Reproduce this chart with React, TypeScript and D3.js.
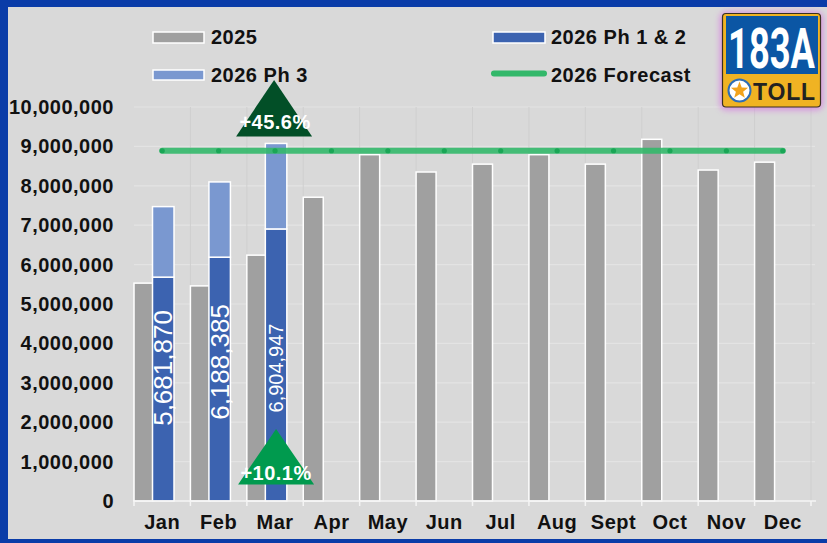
import React from "react";
import * as d3 from "d3";

const months = ["Jan", "Feb", "Mar", "Apr", "May", "Jun", "Jul", "Aug", "Sept", "Oct", "Nov", "Dec"];
const values2025 = [5530000, 5460000, 6240000, 7710000, 8790000, 8350000, 8550000, 8790000, 8550000, 9180000, 8400000, 8600000];
const ph12Months = ["Jan", "Feb", "Mar"];
const ph12Values = [5681870, 6188385, 6904947];
const ph3Values = [1790000, 1910000, 2170000];
const forecastValue = 8890000;
const yTicks = [0, 1000000, 2000000, 3000000, 4000000, 5000000, 6000000, 7000000, 8000000, 9000000, 10000000];
const changeLabels = ["+45.6%", "+10.1%"];

const W = 827;
const H = 543;
const FONT = "'Liberation Sans', Arial, sans-serif";

export default function App() {
  const x = d3.scaleBand<string>().domain(months).range([134, 811]).padding(0);
  const y = d3.scaleLinear().domain([0, 10000000]).range([501, 107]);
  const bw = x.bandwidth();
  const fmt = d3.format(",");

  const grayW = 20;
  const blueOff = 18.5;
  const blueW = 21.5;

  const lineGen = d3
    .line<string>()
    .x((m) => (x(m) as number) + bw / 2)
    .y(() => y(forecastValue));

  // star points for logo
  const starPts: [number, number][] = [];
  for (let i = 0; i < 10; i++) {
    const r = i % 2 === 0 ? 9 : 3.8;
    const a = -Math.PI / 2 + (i * Math.PI) / 5;
    starPts.push([739.5 + r * Math.cos(a), 90.5 + r * Math.sin(a)]);
  }
  const starPath = d3.line()(starPts) + "Z";

  const labelFont = [26, 26, 20];
  const labelCenter = [368, 362, 368];

  const marX = (x("Mar") as number) + blueOff + blueW / 2 - 2;
  const ls = 0.5;

  return (
    <svg
      width={W}
      height={H}
      style={{ position: "absolute", left: 0, top: 0 }}
      fontFamily={FONT}
    >
      <defs>
        <filter id="glow" x="-30%" y="-30%" width="160%" height="160%">
          <feGaussianBlur stdDeviation="3" />
        </filter>
      </defs>
      {/* background and frame */}
      <rect x={0} y={0} width={W} height={H} fill="#0a3ca8" />
      <rect x={8} y={7} width={W - 8} height={532} fill="#d9d9d9" />

      {/* horizontal gridlines */}
      {yTicks.slice(1).map((t) => (
        <line key={"h" + t} x1={134} x2={815} y1={y(t)} y2={y(t)} stroke="#e3e3e3" strokeWidth={1.2} />
      ))}
      {/* vertical gridlines */}
      {months.slice(1).map((m) => (
        <line
          key={"v" + m}
          x1={x(m) as number}
          x2={x(m) as number}
          y1={107}
          y2={501}
          stroke="#cfcfcf"
          strokeWidth={1}
        />
      ))}
      <line x1={811} x2={811} y1={107} y2={501} stroke="#cfcfcf" strokeWidth={1} />

      {/* 2025 bars */}
      {months.map((m, i) => (
        <rect
          key={"g" + m}
          x={x(m) as number}
          y={y(values2025[i])}
          width={grayW}
          height={y(0) - y(values2025[i])}
          fill="#a0a0a0"
          stroke="#ffffff"
          strokeWidth={1.5}
        />
      ))}

      {/* 2026 stacked bars */}
      {ph12Months.map((m, i) => {
        const x0 = (x(m) as number) + blueOff;
        const top12 = y(ph12Values[i]);
        const top3 = y(ph12Values[i] + ph3Values[i]);
        return (
          <g key={"b" + m}>
            <rect x={x0} y={top12} width={blueW} height={y(0) - top12} fill="#3c63b0" stroke="#ffffff" strokeWidth={1.5} />
            <rect x={x0} y={top3} width={blueW} height={top12 - top3} fill="#7a98d0" stroke="#ffffff" strokeWidth={1.5} />
            <text
              transform={`translate(${x0 + blueW / 2},${labelCenter[i]}) rotate(-90)`}
              textAnchor="middle"
              dominantBaseline="central"
              fill="#ffffff"
              fontSize={labelFont[i]}
            >
              {fmt(ph12Values[i])}
            </text>
          </g>
        );
      })}

      {/* forecast line */}
      <path d={lineGen(months) as string} fill="none" stroke="#33b86a" strokeOpacity={0.9} strokeWidth={6} strokeLinecap="round" />
      {months.map((m) => (
        <circle key={"d" + m} cx={(x(m) as number) + bw / 2} cy={y(forecastValue)} r={2.6} fill="#1aa656" />
      ))}

      {/* x axis */}
      <line x1={134} x2={816} y1={501} y2={501} stroke="#f4f4f4" strokeWidth={1.5} />
      {[...months.map((m) => x(m) as number), 811].map((t, i) => (
        <line key={"t" + i} x1={t} x2={t} y1={501} y2={506} stroke="#f4f4f4" strokeWidth={1.5} />
      ))}
      {months.map((m) => (
        <text
          key={"xl" + m}
          x={(x(m) as number) + bw / 2}
          y={529}
          textAnchor="middle"
          fontSize={20}
          fontWeight="bold"
          letterSpacing={ls}
          fill="#111"
        >
          {m}
        </text>
      ))}

      {/* y axis labels */}
      {yTicks.map((t) => (
        <text
          key={"yl" + t}
          x={114}
          y={y(t)}
          textAnchor="end"
          dominantBaseline="central"
          fontSize={20}
          fontWeight="bold"
          letterSpacing={ls}
          fill="#111"
        >
          {fmt(t)}
        </text>
      ))}

      {/* change triangles */}
      <path d={`M${marX},80 L${marX + 38},136.5 L${marX - 38},136.5 Z`} fill="#024f27" />
      <text x={marX + 1} y={128.5} textAnchor="middle" fontSize={20} fontWeight="bold" letterSpacing={ls} fill="#ffffff">
        {changeLabels[0]}
      </text>
      <path d={`M${marX + 2},429 L${marX + 40},484.5 L${marX - 36},484.5 Z`} fill="#009a4e" />
      <text x={marX + 2} y={479.5} textAnchor="middle" fontSize={20} fontWeight="bold" letterSpacing={ls} fill="#ffffff">
        {changeLabels[1]}
      </text>

      {/* legend */}
      <rect x={153} y={32} width={51} height={11} fill="#a0a0a0" stroke="#ffffff" strokeWidth={1.5} />
      <text x={211} y={44} fontSize={20} fontWeight="bold" letterSpacing={ls} fill="#111">2025</text>
      <rect x={153} y={70} width={51} height={10} fill="#7a98d0" stroke="#ffffff" strokeWidth={1.5} />
      <text x={211} y={82} fontSize={20} fontWeight="bold" letterSpacing={ls} fill="#111">2026 Ph 3</text>
      <rect x={493} y={32} width={52} height={11} fill="#3c63b0" stroke="#ffffff" strokeWidth={1.5} />
      <text x={551} y={44} fontSize={20} fontWeight="bold" letterSpacing={ls} fill="#111">2026 Ph 1 &amp; 2</text>
      <line x1={494} x2={544} y1={73.5} y2={73.5} stroke="#33b86a" strokeWidth={6} strokeLinecap="round" />
      <text x={551} y={82} fontSize={20} fontWeight="bold" letterSpacing={ls} fill="#111">2026 Forecast</text>

      {/* logo */}
      <rect x={720} y={12} width={103} height={98} rx={6} fill="#d77ee0" opacity={0.8} filter="url(#glow)" />
      <rect x={722.5} y={13.5} width={98} height={93.5} rx={3.5} fill="#f0b323" stroke="#3a3020" strokeWidth={1.2} />
      <rect x={726} y={16} width={92} height={58} fill="#0b56a4" />
      <text
        transform="translate(771.5,68) scale(0.66,1)"
        textAnchor="middle"
        fontSize={55}
        fontWeight="bold"
        fill="#ffffff"
        fontFamily="Roboto, 'Liberation Sans', sans-serif"
      >
        183A
      </text>
      <circle cx={739.5} cy={90.5} r={11} fill="#ffffff" stroke="#2f6db5" strokeWidth={2} />
      <path d={starPath} fill="#f2a31c" />
      <text
        x={784.5}
        y={99.5}
        textAnchor="middle"
        fontSize={23}
        fontWeight="bold"
        letterSpacing={0.8}
        fill="#222222"
      >
        TOLL
      </text>
    </svg>
  );
}
